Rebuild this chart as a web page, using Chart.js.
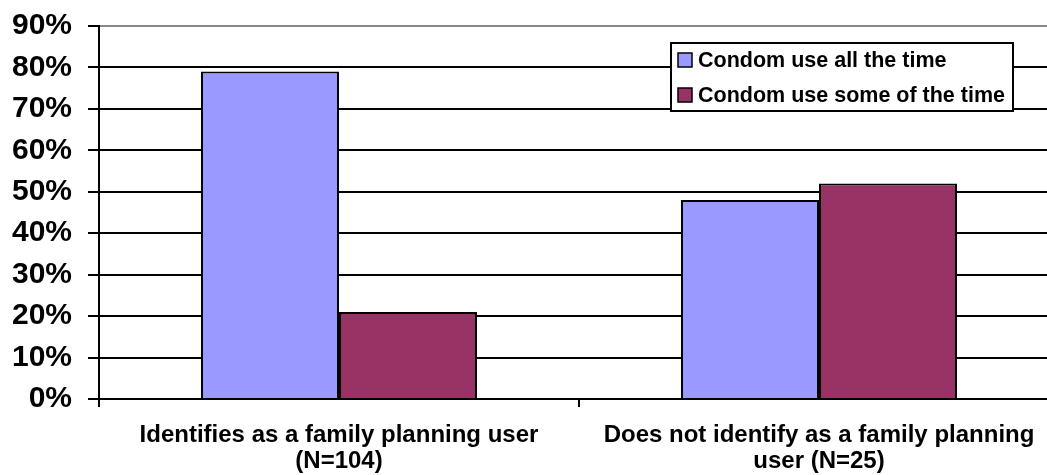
<!DOCTYPE html>
<html>
<head>
<meta charset="utf-8">
<title>Condom use by family planning identification</title>
<script src="https://cdn.jsdelivr.net/npm/chart.js@4/dist/chart.umd.min.js"></script>
<style>
  html, body { margin: 0; padding: 0; background: #fff; overflow: hidden; }
  #wrap { width: 1061px; height: 475px; }
</style>
</head>
<body>
<div id="wrap"><canvas id="chart" width="1061" height="475"></canvas></div>
<script>
// Categories (multi-line axis labels)
const categories = [
  ["Identifies as a family planning user", "(N=104)"],
  ["Does not identify as a family planning", "user (N=25)"]
];
const seriesNames = ["Condom use all the time", "Condom use some of the time"];
const allTheTime = [79, 48];
const someOfTheTime = [21, 52];
const yMax = 90;
const yStep = 10;

const FONT = "'Liberation Sans', Arial, Helvetica, sans-serif";

// Boxed legend drawn inside the plot area, upper right
const boxLegend = {
  id: 'boxLegend',
  afterDraw(chart) {
    const { ctx, chartArea } = chart;
    const x = chartArea.left + 572, y = chartArea.top + 17;
    const w = 342, h = 68;
    ctx.save();
    ctx.fillStyle = '#fff';
    ctx.fillRect(x, y, w, h);
    ctx.lineWidth = 2;
    ctx.strokeStyle = '#000';
    ctx.strokeRect(x, y, w, h);
    ctx.font = 'bold 21.5px ' + FONT;
    ctx.textBaseline = 'middle';
    ctx.textAlign = 'left';
    chart.data.datasets.forEach((ds, i) => {
      const cy = y + 17 + i * 35;
      ctx.fillStyle = ds.backgroundColor;
      ctx.fillRect(x + 7, cy - 7, 14, 14);
      ctx.lineWidth = 1.5;
      ctx.strokeStyle = '#000';
      ctx.strokeRect(x + 7, cy - 7, 14, 14);
      ctx.fillStyle = '#000';
      ctx.fillText(ds.label, x + 27, cy + 1);
    });
    ctx.restore();
  }
};

new Chart(document.getElementById('chart'), {
  type: 'bar',
  data: {
    labels: categories,
    datasets: [
      {
        label: seriesNames[0],
        data: allTheTime,
        backgroundColor: '#9999FF',
        borderColor: '#000',
        borderWidth: 2,
        borderSkipped: 'bottom'
      },
      {
        label: seriesNames[1],
        data: someOfTheTime,
        backgroundColor: '#993366',
        borderColor: '#000',
        borderWidth: 2,
        borderSkipped: 'bottom'
      }
    ]
  },
  options: {
    responsive: false,
    animation: false,
    layout: { padding: { left: 10, top: 26, right: 2, bottom: 0 } },
    datasets: { bar: { categoryPercentage: 0.575, barPercentage: 1.0 } },
    plugins: {
      legend: { display: false },
      tooltip: { enabled: false }
    },
    scales: {
      x: {
        offset: true,
        grid: {
          offset: true,
          drawOnChartArea: false,
          drawTicks: true,
          tickLength: 8,
          color: '#000',
          lineWidth: 2
        },
        border: { display: true, color: '#000', width: 2 },
        ticks: {
          color: '#000',
          padding: 15,
          maxRotation: 0,
          autoSkip: false,
          font: { family: FONT, size: 24, weight: 'bold', lineHeight: 1.08 }
        },
        afterFit(scale) { scale.height = 76; }
      },
      y: {
        min: 0,
        max: yMax,
        grid: {
          color: (c) => (c.tick && c.tick.value === yMax ? '#888' : '#000'),
          tickColor: '#000',
          lineWidth: 2,
          tickLength: 11
        },
        border: { display: true, color: '#000', width: 2 },
        ticks: {
          stepSize: yStep,
          color: '#000',
          padding: 16,
          font: { family: FONT, size: 30, weight: 'bold' },
          callback: (v) => v + '%'
        },
        afterFit(scale) {
          scale.width = 89;
          scale.paddingTop = 0;
          scale.paddingBottom = 0;
        }
      }
    }
  },
  plugins: [boxLegend]
});
</script>
</body>
</html>
